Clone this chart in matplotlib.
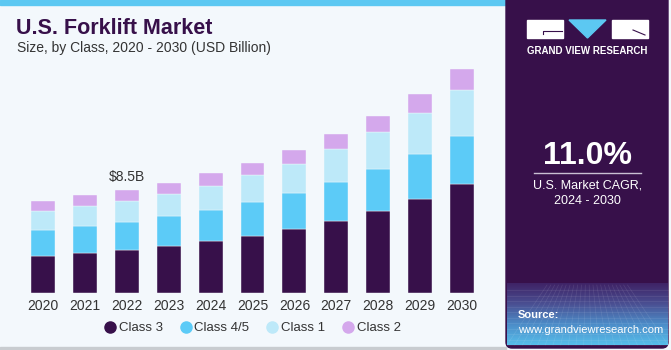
import numpy as np
import matplotlib.pyplot as plt
from matplotlib.patches import Rectangle, Polygon, FancyBboxPatch
from matplotlib.colors import LinearSegmentedColormap

plt.rcParams['font.family'] = ['Liberation Sans', 'DejaVu Sans']

years = ['2020', '2021', '2022', '2023', '2024', '2025', '2026', '2027', '2028', '2029', '2030']
class3 = [3.09, 3.29, 3.59, 3.89, 4.31, 4.72, 5.30, 5.96, 6.79, 7.78, 9.00]
class45 = [2.13, 2.26, 2.29, 2.48, 2.57, 2.82, 2.98, 3.23, 3.48, 3.73, 4.00]
class1 = [1.57, 1.68, 1.74, 1.85, 2.01, 2.21, 2.43, 2.71, 3.06, 3.39, 3.81]
class2 = [0.85, 0.86, 0.88, 0.91, 1.03, 0.99, 1.13, 1.27, 1.32, 1.55, 1.71]
series = [('Class 3', class3, '#37104a'),
          ('Class 4/5', class45, '#5ccbf7'),
          ('Class 1', class1, '#bde9f9'),
          ('Class 2', class2, '#d4a8ec')]

W, H = 671, 350
fig = plt.figure(figsize=(W / 100, H / 100), dpi=100)
fig.patch.set_facecolor('#f3f8fc')

# pixel coords (top-left origin) -> figure fraction
def fx(x):
    return x / W

def fy(y):
    return 1 - y / H

bg = fig.add_axes([0, 0, 1, 1], zorder=0)
bg.set_xlim(0, W)
bg.set_ylim(H, 0)
bg.axis('off')
bg.add_patch(Rectangle((0, 0), 506, 5, color='#5cc8f2'))
bg.add_patch(Rectangle((0, 347), 506, 3, color='#c8ccd0'))

# right panel
panel = FancyBboxPatch((506, -6), 162, 354, boxstyle='round,pad=0,rounding_size=6',
                       color='#37104a')
bg.add_patch(panel)
cmap = LinearSegmentedColormap.from_list('g', ['#3f2366', '#4a4f92', '#4c8cc8', '#56bdea'])
grad = np.linspace(0, 1, 100).reshape(-1, 1)
bg.imshow(grad, extent=(507, 668, 345, 283), cmap=cmap, aspect='auto', zorder=1)
for yy in np.linspace(290, 345, 11):
    bg.plot([507, 668], [yy, yy], color='white', alpha=0.1, lw=0.5, zorder=2)
for xx in np.linspace(507, 668, 22):
    bg.plot([587 + (xx - 587) * 0.5, xx], [285, 345], color='white', alpha=0.1, lw=0.5, zorder=2)

# logo
bg.add_patch(Rectangle((527, 20), 36, 18, color='white', zorder=3))
bg.add_patch(Polygon([(569, 20), (606, 20), (587.5, 38)], color='#5cc8f2', zorder=3))
bg.add_patch(Rectangle((612, 20), 36, 18, color='white', zorder=3))
bg.plot([543, 543, 562], [34, 31, 31], color='#37104a', lw=0.8, zorder=4)
bg.plot([633, 645], [30, 35], color='#37104a', lw=0.8, zorder=4)
bg.text(587.5, 51, 'GRAND VIEW RESEARCH', color='white', fontsize=7, fontweight='bold',
        ha='center', va='center', zorder=4)

bg.text(587.5, 156, '11.0%', color='white', fontsize=23, fontweight='bold',
        ha='center', va='center', zorder=4)
bg.plot([534, 641], [173, 173], color='#c9bfd3', lw=1, zorder=4)
bg.text(587.5, 186, 'U.S. Market CAGR,', color='white', fontsize=9, ha='center', va='center', zorder=4)
bg.text(587.5, 201, '2024 - 2030', color='white', fontsize=9, ha='center', va='center', zorder=4)
bg.text(518, 315, 'Source:', color='white', fontsize=8, fontweight='bold', ha='left', va='center', zorder=4)
bg.text(518, 330, 'www.grandviewresearch.com', color='white', fontsize=8, ha='left', va='center', zorder=4)

# titles
bg.text(16, 28, 'U.S. Forklift Market', color='#37104a', fontsize=15.5, fontweight='bold',
        ha='left', va='center')
bg.text(17, 48, 'Size, by Class, 2020 - 2030 (USD Billion)', color='#333333', fontsize=10,
        ha='left', va='center')

# chart
ax = fig.add_axes([fx(22), fy(293), fx(483 - 22), (293 - 60) / H], zorder=1)
ax.set_facecolor('none')
x = np.arange(len(years))
bottom = np.zeros(len(years))
for name, vals, col in series:
    ax.bar(x, vals, 0.57, bottom=bottom, color=col, label=name, edgecolor='#f3f8fc', linewidth=0.3)
    bottom += np.array(vals)
ax.set_xlim(-0.5, len(years) - 0.5)
ax.set_ylim(0, 19.3)
ax.set_xticks(x)
ax.set_xticklabels(years, fontsize=10, color='#333333')
ax.tick_params(axis='x', length=0, pad=4)
ax.set_yticks([])
for s in ax.spines.values():
    s.set_visible(False)
ax.text(2, bottom[2] + 0.5, '$8.5B', ha='center', va='bottom', fontsize=10, color='#333333')

handles = [plt.Line2D([], [], marker='o', ls='', color=c, markersize=8) for _, _, c in series]
ax.legend(handles, [n for n, _, _ in series], loc='center', bbox_to_anchor=(fx(253), fy(328)),
          bbox_transform=fig.transFigure, ncol=4, frameon=False, fontsize=9.5,
          handlelength=0.7, columnspacing=1.4, handletextpad=0.3, labelcolor='#333333')

fig.savefig('out.png', dpi=100, facecolor=fig.get_facecolor())
